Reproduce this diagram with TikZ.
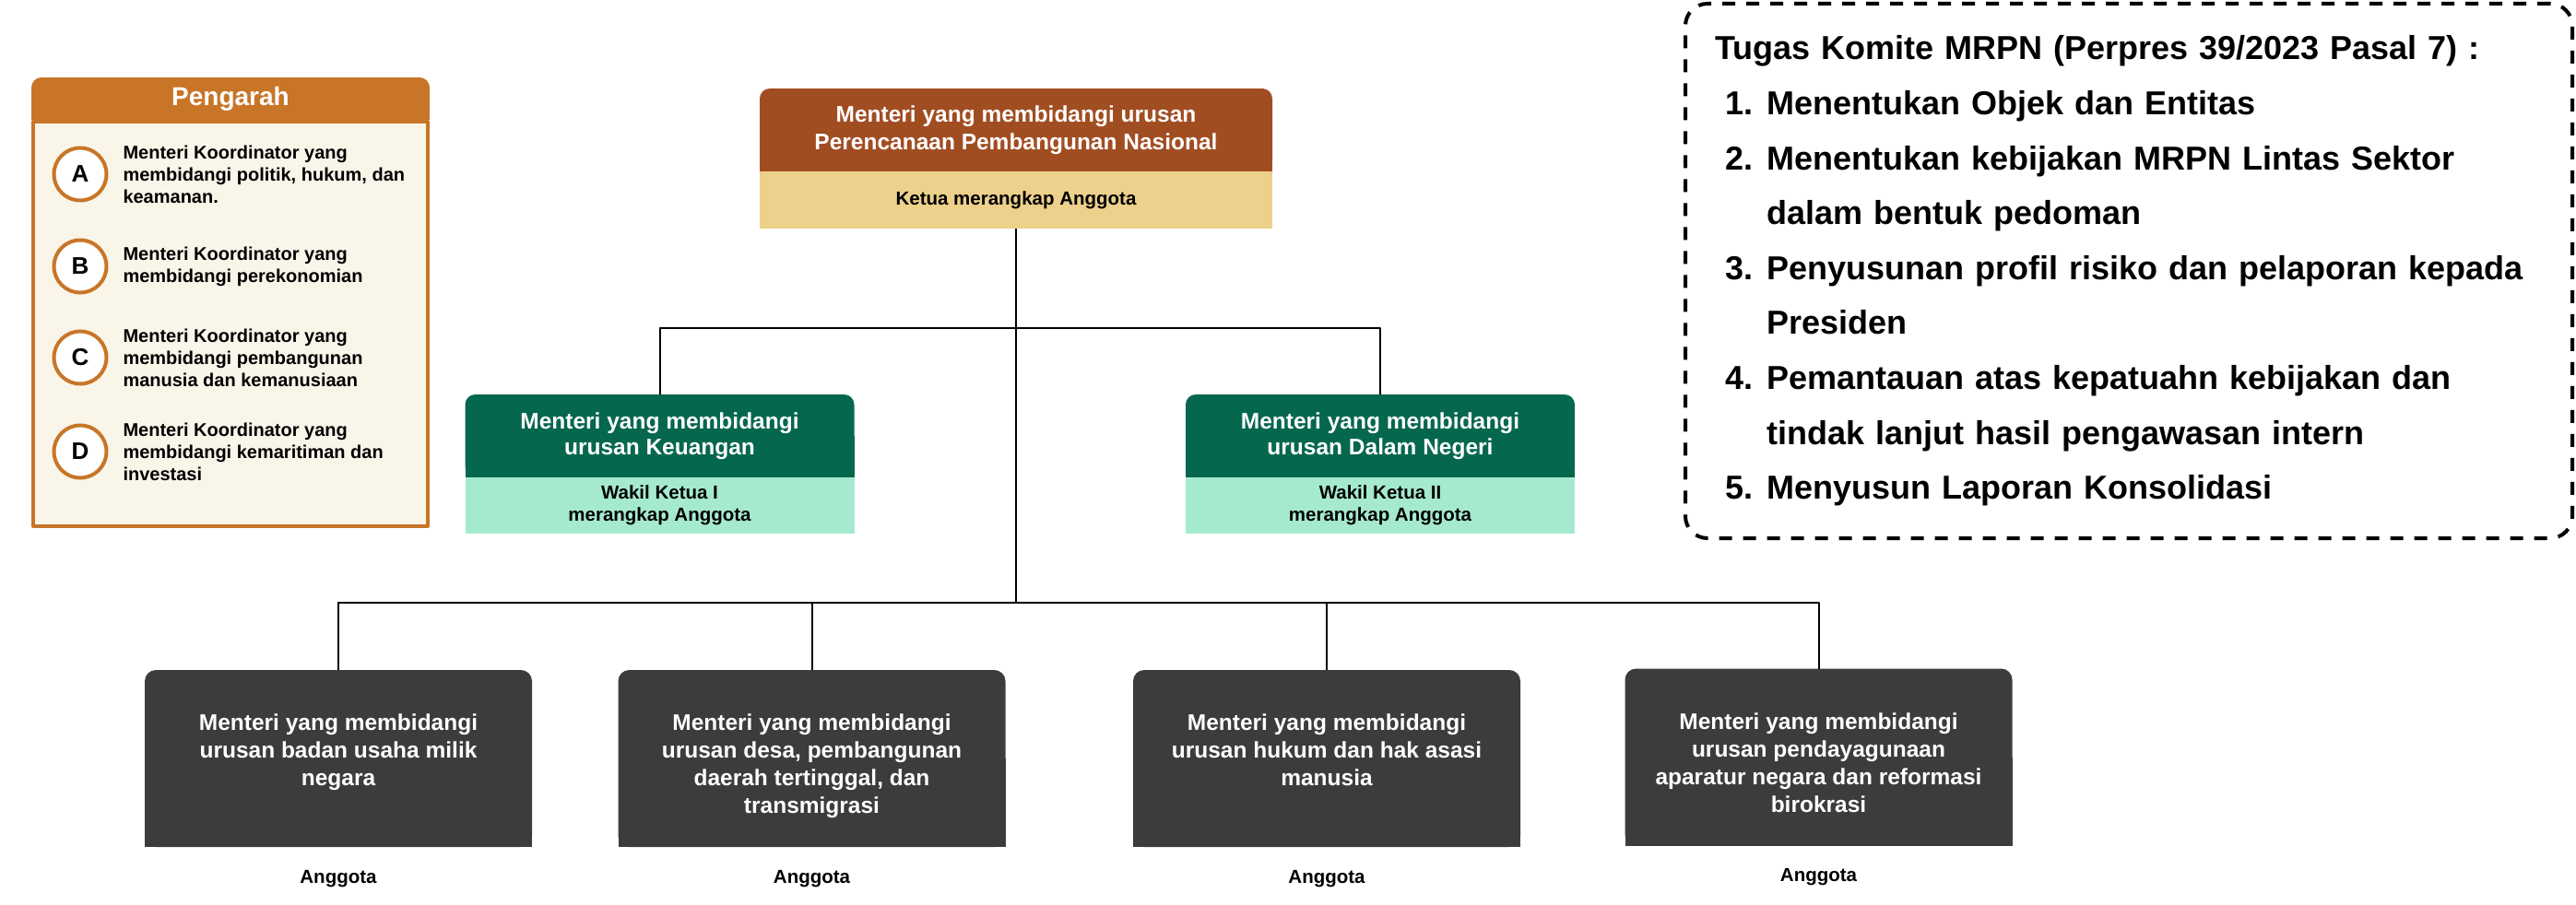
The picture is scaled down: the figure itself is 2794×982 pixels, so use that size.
\documentclass[tikz,border=0pt]{standalone}
\usepackage{fontspec}
\setmainfont{Liberation Sans}
\usetikzlibrary{positioning,backgrounds}

\definecolor{pengarahorange}{HTML}{C87528}
\definecolor{pengarahcream}{HTML}{FAF5E9}
\definecolor{ketuabrown}{HTML}{A14D22}
\definecolor{ketuabeige}{HTML}{EDD08B}
\definecolor{wakilgreen}{HTML}{06674F}
\definecolor{wakilmint}{HTML}{A5EACF}
\definecolor{anggotagray}{HTML}{3C3C3C}

\begin{document}
\begin{tikzpicture}[x=1pt,y=-1pt,line join=round,
  every node/.style={inner sep=0pt,outer sep=0pt},
  kepala/.style={rounded corners=11pt,minimum height=90pt,text=white,align=center,
    font=\bfseries\fontsize{24.5}{30}\selectfont},
  jabatan/.style={align=center,font=\bfseries\fontsize{20.5}{24}\selectfont},
  anggota/.style={fill=anggotagray,rounded corners=12pt,minimum width=420pt,minimum height=192pt,
    text=white,font=\bfseries\fontsize{24.5}{30}\selectfont},
  anggotalabel/.style={font=\bfseries\fontsize{20.5}{24}\selectfont},
  huruf/.style={circle,draw=pengarahorange,line width=4pt,fill=white,minimum size=57pt,
    font=\bfseries\fontsize{26}{26}\selectfont},
  pengarahteks/.style={align=left,font=\bfseries\fontsize{20}{24}\selectfont},
  garis/.style={line width=2pt}
]

% ===== parameters =====
\def\busatas{356}   % y of upper connector bus
\def\busbawah{654}  % y of lower connector bus
\def\anggotateks#1{\parbox[c][130pt][t]{400pt}{\vspace*{17pt}\centering #1}}
\def\nomor#1{\makebox[56pt][l]{\hspace{11pt}#1}}

\useasboundingbox (0,0) rectangle (2794,982);

% ===== Pengarah =====
\node[rounded corners=11pt,fill=pengarahorange,minimum width=432pt,minimum height=46pt,
  text=white,font=\bfseries\fontsize{28}{28}\selectfont] (pengarah) at (250,107) {Pengarah};
\node[draw=pengarahorange,line width=4pt,fill=pengarahcream,minimum width=428pt,
  minimum height=439pt,below=2pt of pengarah] (pengarahIsi) {};

\foreach \h/\yy/\teks in {
  A/189/{Menteri Koordinator yang\\membidangi politik, hukum, dan\\keamanan.},
  B/289/{Menteri Koordinator yang\\membidangi perekonomian},
  C/388/{Menteri Koordinator yang\\membidangi pembangunan\\manusia dan kemanusiaan},
  D/490/{Menteri Koordinator yang\\membidangi kemaritiman dan\\investasi}}{
  \node[huruf] (huruf\h) at (87,\yy) {\h};
  \node[pengarahteks,right=18pt of huruf\h] (menko\h) {\teks};
}

% ===== Ketua =====
\node[kepala,fill=ketuabrown,minimum width=556pt] (ketua) at (1102,141)
  {Menteri yang membidangi urusan\\Perencanaan Pembangunan Nasional};
\node[jabatan,fill=ketuabeige,minimum width=556pt,minimum height=62pt,below=0pt of ketua]
  (ketuaJabatan) {Ketua merangkap Anggota};

% ===== Wakil Ketua =====
\node[kepala,fill=wakilgreen,minimum width=422pt,font=\bfseries\fontsize{24.5}{28}\selectfont]
  (wakilSatu) at (715.5,473) {Menteri yang membidangi\\urusan Keuangan};
\node[jabatan,fill=wakilmint,minimum width=422pt,minimum height=61pt,below=0pt of wakilSatu]
  (wakilSatuJabatan) {Wakil Ketua I\\merangkap Anggota};

\node[kepala,fill=wakilgreen,minimum width=422pt,font=\bfseries\fontsize{24.5}{28}\selectfont]
  (wakilDua) at (1497,473) {Menteri yang membidangi\\urusan Dalam Negeri};
\node[jabatan,fill=wakilmint,minimum width=422pt,minimum height=61pt,below=0pt of wakilDua]
  (wakilDuaJabatan) {Wakil Ketua II\\merangkap Anggota};

% ===== Anggota =====
\node[anggota] (anggotaBumn) at (367,823)
  {\anggotateks{Menteri yang membidangi\\urusan badan usaha milik\\negara}};
\node[anggota] (anggotaDesa) at (880.5,823)
  {\anggotateks{Menteri yang membidangi\\urusan desa, pembangunan\\daerah tertinggal, dan\\transmigrasi}};
\node[anggota] (anggotaHam) at (1439,823)
  {\anggotateks{Menteri yang membidangi\\urusan hukum dan hak asasi\\manusia}};
\node[anggota] (anggotaPanrb) at (1972.5,821.5)
  {\anggotateks{Menteri yang membidangi\\urusan pendayagunaan\\aparatur negara dan reformasi\\birokrasi}};

\foreach \n in {anggotaBumn,anggotaDesa,anggotaHam,anggotaPanrb}
  \node[anggotalabel,below=25pt of \n] (label\n) {Anggota};

% square lower corners of the headers
\begin{scope}[on background layer]
  \foreach \n/\c in {pengarah/pengarahorange,ketua/ketuabrown,wakilSatu/wakilgreen,
      wakilDua/wakilgreen,anggotaBumn/anggotagray,anggotaDesa/anggotagray,
      anggotaHam/anggotagray,anggotaPanrb/anggotagray}
    \fill[\c] (\n.west) rectangle (\n.south east);
\end{scope}

% ===== connectors =====
\coordinate (busAtas) at (ketuaJabatan.south |- 0,\busatas);
\coordinate (busBawah) at (ketuaJabatan.south |- 0,\busbawah);
\draw[garis] (ketuaJabatan.south) -- (busBawah);
\draw[garis] (wakilSatu.north) |- (busAtas) -| (wakilDua.north);
\draw[garis] (anggotaBumn.north) |- (busBawah) -| (anggotaPanrb.north);
\draw[garis] (anggotaDesa.north) -- (anggotaDesa.north |- busBawah);
\draw[garis] (anggotaHam.north) -- (anggotaHam.north |- busBawah);

% ===== Tugas Komite =====
\node[draw,line width=4pt,dash pattern=on 14pt off 12pt,rounded corners=24pt,
  minimum width=962pt,minimum height=580pt,inner xsep=32pt,text width=898pt,align=left,
  font=\bfseries\fontsize{36}{59.6}\selectfont] (tugas) at (2309,294)
  {Tugas Komite MRPN (Perpres 39/2023 Pasal 7) :\\
   \nomor{1.}Menentukan Objek dan Entitas\\
   \nomor{2.}Menentukan kebijakan MRPN Lintas Sektor\\
   \nomor{}dalam bentuk pedoman\\
   \nomor{3.}Penyusunan profil risiko dan pelaporan kepada\\
   \nomor{}Presiden\\
   \nomor{4.}Pemantauan atas kepatuahn kebijakan dan\\
   \nomor{}tindak lanjut hasil pengawasan intern\\
   \nomor{5.}Menyusun Laporan Konsolidasi};

\end{tikzpicture}
\end{document}
